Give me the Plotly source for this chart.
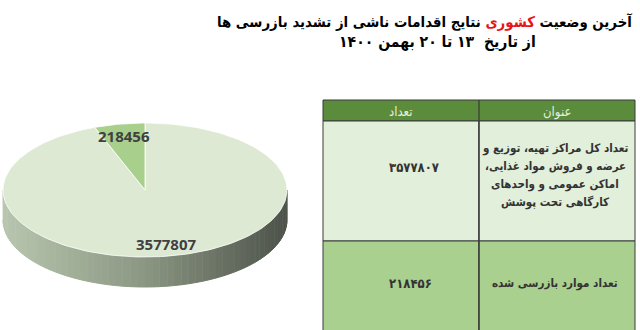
import numpy as np
import plotly.graph_objects as go

# ---------------- data ----------------
slice_names = ["کل مراکز تحت پوشش", "موارد بازرسی شده"]
slice_values = [3577807, 218456]
slice_labels = ["3577807", "218456"]
slice_colors = ["#dde9d3", "#a8cf8c"]

table_headers = ["تعداد", "عنوان"]
table_counts = ["۳۵۷۷۸۰۷", "۲۱۸۴۵۶"]
table_titles = [
    "تعداد کل مراکز تهیه، توزیع و<br>عرضه و فروش مواد غذایی،\u200f<br>اماکن عمومی و واحدهای<br>کارگاهی تحت پوشش",
    "تعداد موارد بازرسی شده",
]
row_colors = ["#e2efda", "#a9d08e"]

title_line1 = ["آخرین وضعیت ", "کشوری", " نتایج اقدامات ناشی از تشدید بازرسی ها"]
title_line2 = "از تاریخ  ۱۳ تا ۲۰ بهمن ۱۴۰۰"

# ---------------- geometry (layout constants) ----------------
W, H = 640, 330
cx, cy, rx, ry, depth = 145, 190, 142, 67, 30
FA = "DejaVu Sans Condensed, DejaVu Sans"

fig = go.Figure()

def ell(theta):
    return cx + rx * np.cos(theta), cy - ry * np.sin(theta)

def lerp_color(t):
    stops = [(0.0, (184, 198, 175)), (0.5, (139, 151, 131)), (1.0, (77, 82, 74))]
    for (t0, c0), (t1, c1) in zip(stops[:-1], stops[1:]):
        if t <= t1:
            f = (t - t0) / (t1 - t0)
            return "rgb(%d,%d,%d)" % tuple(int(a + (b - a) * f) for a, b in zip(c0, c1))
    return "rgb(%d,%d,%d)" % stops[-1][1]

# side of the 3D pie (visible lower half), gradient strips
N = 60
ths = np.linspace(np.pi, 2 * np.pi, N + 1)
for i in range(N):
    t = np.linspace(ths[i], ths[i + 1], 4)
    x, y = ell(t)
    xs = list(x) + list(x[::-1])
    ys = list(y) + list((y + depth)[::-1])
    frac = (np.mean(x) - (cx - rx)) / (2 * rx)
    col = lerp_color(frac)
    fig.add_trace(go.Scatter(x=xs, y=ys, fill="toself", fillcolor=col, mode="lines",
                             line=dict(color=col, width=1), hoverinfo="skip", showlegend=False))

# top faces from data
total = sum(slice_values)
start = np.pi / 2
label_pos = []
for v, c, name in zip(slice_values, slice_colors, slice_names):
    sweep = 2 * np.pi * v / total
    end = start - sweep  # clockwise
    t = np.linspace(start, end, 200)
    x, y = ell(t)
    xs = [cx] + list(x) + [cx]
    ys = [cy] + list(y) + [cy]
    fig.add_trace(go.Scatter(x=xs, y=ys, fill="toself", fillcolor=c, mode="lines",
                             line=dict(color="rgba(255,255,255,0.8)", width=1),
                             name=name, hoverinfo="skip", showlegend=False))
    label_pos.append((start + end) / 2)
    start = end

# data labels
for lbl, mid in zip(slice_labels, label_pos):
    lx = cx + rx * 0.82 * np.cos(mid)
    ly = cy - ry * 0.82 * np.sin(mid)
    fig.add_annotation(x=lx, y=ly, text=lbl, showarrow=False, xref="x", yref="y",
                       font=dict(family="Open Sans", size=15, color="#404040", weight="bold"))

# ---------------- table ----------------
tx0, tmid, tx1 = 323, 479, 635
hy0, hy1 = 100, 121
row_edges = [121, 241, 345]
grid = "#3a3a3a"
fig.add_shape(type="rect", xref="x", yref="y", x0=tx0, x1=tx1, y0=hy0, y1=hy1,
              fillcolor="#5b8c3c", line=dict(color=grid, width=1), layer="above")
for (y0, y1), col in zip(zip(row_edges[:-1], row_edges[1:]), row_colors):
    for a, b in [(tx0, tmid), (tmid, tx1)]:
        fig.add_shape(type="rect", xref="x", yref="y", x0=a, x1=b, y0=y0, y1=y1,
                      fillcolor=col, line=dict(color=grid, width=1), layer="above")
fig.add_shape(type="line", xref="x", yref="y", x0=tmid, x1=tmid, y0=hy0, y1=row_edges[-1],
              line=dict(color=grid, width=1.2), layer="above")

col_centers = [(tx0 + tmid) / 2, (tmid + tx1) / 2]
for hdr, xc in zip(table_headers, col_centers):
    fig.add_annotation(x=xc, y=(hy0 + hy1) / 2 + 1, text=hdr, showarrow=False, xref="x", yref="y",
                       font=dict(family=FA, size=13, color="#e4efdb"))

count_offsets = [46, 42]
title_offsets = [54, 42]
line_gap = 18
for i, (cnt, ttl) in enumerate(zip(table_counts, table_titles)):
    top = row_edges[i]
    fig.add_annotation(x=387, y=top + count_offsets[i], text=cnt, showarrow=False,
                       xref="x", yref="y", xanchor="left",
                       font=dict(family=FA, size=13, color="#333333", weight="bold"))
    lines = ttl.split("<br>")
    n = len(lines)
    for k, ln in enumerate(lines):
        fig.add_annotation(x=col_centers[1] - 2, y=top + title_offsets[i] + (k - (n - 1) / 2) * line_gap,
                           text=ln, showarrow=False, xref="x", yref="y",
                           font=dict(family=FA, size=11.5, color="#333333", weight="bold"))

# ---------------- title ----------------
t1 = title_line1[0] + "<span style='color:#e8141a'>" + title_line1[1] + "</span>" + title_line1[2]
fig.add_annotation(x=634, y=22, text=t1, showarrow=False, xref="x", yref="y", xanchor="right",
                   font=dict(family=FA, size=14.8, color="#000000", weight="bold"))
fig.add_annotation(x=437, y=42, text=title_line2, showarrow=False, xref="x", yref="y",
                   font=dict(family=FA, size=15.6, color="#000000", weight="bold"))

fig.update_layout(
    width=W, height=H, margin=dict(l=0, r=0, t=0, b=0),
    paper_bgcolor="white", plot_bgcolor="white",
    xaxis=dict(range=[0, W], visible=False, fixedrange=True),
    yaxis=dict(range=[H, 0], visible=False, fixedrange=True),
)

fig.write_html("out.html")
